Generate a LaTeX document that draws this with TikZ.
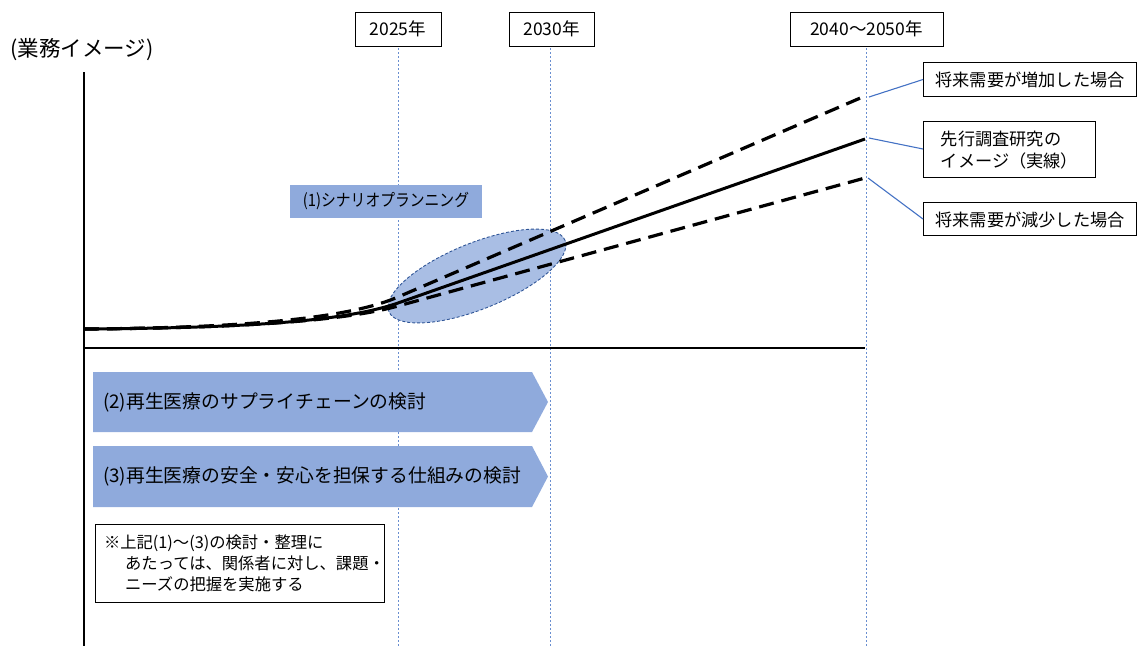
\documentclass[tikz,border=0pt]{standalone}
\usepackage{fontspec}
\setmainfont{Noto Sans CJK JP}
\usetikzlibrary{shapes.geometric}
\definecolor{axblue}{HTML}{4472C4}
\definecolor{barblue}{HTML}{8FAADC}
\definecolor{ellfill}{HTML}{A9BEE4}
\definecolor{elldraw}{HTML}{2F5597}
\begin{document}
\begin{tikzpicture}[x=1pt,y=-1pt,
  yearbox/.style={draw=black, line width=1pt, fill=white, minimum height=34pt, inner sep=0pt, font=\fontsize{17.5}{20}\selectfont},
  labelbox/.style={draw=black, line width=1pt, fill=white, anchor=west, inner xsep=11pt, inner ysep=0pt, align=left, text depth=0pt, font=\fontsize{17.2}{22}\selectfont},
  guide/.style={axblue!80, line width=0.7pt, dash pattern=on 2pt off 2pt},
  axis/.style={black, line width=2pt},
  trend/.style={black, line width=3pt},
  scen/.style={black, line width=3.2pt, dash pattern=on 15pt off 8pt},
  conn/.style={axblue, line width=1.1pt},
  bartext/.style={anchor=west, inner sep=0pt, font=\fontsize{18.8}{22}\selectfont},
]
\useasboundingbox (0,0) rectangle (1137,646);

% guides
\draw[guide] (398,48) -- (398,646);
\draw[guide] (550,48) -- (550,646);
\draw[guide] (866,48) -- (866,646);

% title
\node[font=\fontsize{21.5}{24}\selectfont, inner sep=0pt] (title) at (82,50) {(業務イメージ)};

% year boxes
\node[yearbox, minimum width=86pt] (y25) at (398,29) {2025年};
\node[yearbox, minimum width=85pt] (y30) at (551.5,29) {2030年};
\node[yearbox, minimum width=153pt] (y40) at (866.5,29) {2040～2050年};

% axes
\draw[axis] (84,72) -- (84,646);
\draw[axis] (83,348) -- (865,348);

% scenario planning box
\node[fill=barblue, minimum width=192pt, minimum height=33pt, inner sep=0pt, font=\fontsize{17}{20}\selectfont] (sp) at (386,201.5) {\scalebox{0.87}[1]{(1)シナリオプランニング}};

% ellipse
\node[ellipse, draw=elldraw, fill=ellfill, line width=0.9pt, dash pattern=on 3pt off 2pt, minimum width=190pt, minimum height=66pt, inner sep=0pt, rotate=22] (ell) at (477,276) {};

% curves
\draw[scen] (84,329) .. controls (230,328) and (345,320) .. (398,297) -- (865,96);
\draw[scen] (84,329) .. controls (230,328) and (340,322) .. (398,306) -- (865,178);
\draw[trend] (84,329) .. controls (230,328) and (340,323) .. (398,303) -- (865,139);

% right labels
\node[labelbox, minimum width=213pt, minimum height=34pt] (lup) at (923,79.5) {将来需要が増加した場合};
\node[labelbox, minimum width=172pt, minimum height=56pt] (lmid) at (923,149) {先行調査研究の\\イメージ（実線）};
\node[labelbox, minimum width=213pt, minimum height=33pt] (ldn) at (923,219) {将来需要が減少した場合};

\coordinate (eup) at (869,97);
\coordinate (emid) at (869,138);
\coordinate (edn) at (868,178);
\draw[conn] (eup) -- (lup.west);
\draw[conn] (emid) -- (lmid.west);
\draw[conn] (edn) -- (ldn.west);

% arrows
\fill[barblue] (93,372) -- (532,372) -- (548,402) -- (532,432) -- (93,432) -- cycle;
\node[bartext] (a2) at (103,402) {(2)再生医療のサプライチェーンの検討};
\fill[barblue] (93,446) -- (532,446) -- (548,476.5) -- (532,507) -- (93,507) -- cycle;
\node[bartext] (a3) at (103,476.5) {(3)再生医療の安全・安心を担保する仕組みの検討};

% note
\node[draw=black, line width=1pt, anchor=north west, minimum width=289pt, minimum height=78pt, text width=272pt, inner xsep=8pt, inner ysep=5pt, align=left, font=\fontsize{16.3}{21}\selectfont] (note) at (95,524)
 {※上記(1)～(3)の検討・整理に\\\hspace*{1.3em}あたっては、関係者に対し、課題・\\\hspace*{1.3em}ニーズの把握を実施する};
\end{tikzpicture}
\end{document}
